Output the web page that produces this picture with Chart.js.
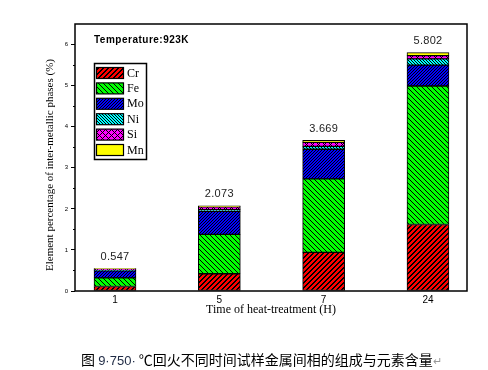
<!DOCTYPE html>
<html>
<head>
<meta charset="utf-8">
<script src="https://cdn.jsdelivr.net/npm/chart.js@4.4.1/dist/chart.umd.min.js"></script>
<style>
  html, body { margin: 0; padding: 0; background: #fff; }
  #wrap { position: relative; width: 488px; height: 370px; }
  #caption {
    position: absolute; left: 81px; top: 350px; text-align: left;
    font: 14px "Noto Sans CJK SC", sans-serif; line-height: 18px; color: #000; white-space: nowrap;
  }
  #caption .num { color: #1f2a44; font-family: "Liberation Sans", Arial, sans-serif; font-size: 13px; }
  #caption .mark { color: #999; font-size: 11px; }
</style>
</head>
<body>
<div id="wrap">
  <canvas id="chart" width="488" height="370"></canvas>
  <div id="caption">图 <span class="num">9·750·</span> ℃回火不同时间试样金属间相的组成与元素含量<span class="mark">↵</span></div>
</div>
<script>
// data (stacked percentages per element)
const timeLabels = ['1', '5', '7', '24'];
const elementNames = ['Cr', 'Fe', 'Mo', 'Ni', 'Si', 'Mn'];
const crValues = [0.11, 0.42, 0.94, 1.62];
const feValues = [0.21, 0.96, 1.79, 3.37];
const moValues = [0.17, 0.56, 0.72, 0.51];
const niValues = [0.02, 0.04, 0.07, 0.15];
const siValues = [0.03, 0.07, 0.10, 0.08];
const mnValues = [0.007, 0.023, 0.049, 0.072];
const tempText = 'Temperature:923K';

// hatch pattern: kind '/', '\\', 'x' or '' (solid)
function makeHatch(bg, kind, step, w) {
    var c = document.createElement('canvas');
    c.width = step; c.height = step;
    var g = c.getContext('2d');
    g.fillStyle = bg;
    g.fillRect(0, 0, step, step);
    g.fillStyle = '#000';
    for (var x = 0; x < step; x++) {
        for (var y = 0; y < step; y++) {
            var a = (x + y) % step, b = ((x - y) % step + step) % step;
            if ((kind === '/' || kind === 'x') && a < w) g.fillRect(x, y, 1, 1);
            if ((kind === '\\' || kind === 'x') && b < w) g.fillRect(x, y, 1, 1);
        }
    }
    return g.createPattern(c, 'repeat');
}

var fills = [
    makeHatch('#ff0000', '/', 5, 2),
    makeHatch('#00ff00', '\\', 5, 1),
    makeHatch('#0000ff', '/', 3, 1),
    makeHatch('#00ffff', '\\', 3, 1),
    makeHatch('#ff00ff', 'x', 6, 1),
    '#ffff00'
];
var series = [crValues, feValues, moValues, niValues, siValues, mnValues];

var datasets = [];
for (var i = 0; i < series.length; i++) {
    datasets.push({
        label: elementNames[i],
        data: series[i].map(function (v, k) { return { x: k + 1, y: v }; }),
        backgroundColor: fills[i],
        borderColor: '#000',
        borderWidth: 1,
        borderSkipped: false,
        barThickness: 42
    });
}

// frame, minor ticks, titles, totals, legend
var decorPlugin = {
    id: 'decor',
    afterDraw: function (chart) {
        var ctx = chart.ctx, a = chart.chartArea;
        var xs = chart.scales.x, ys = chart.scales.y;
        ctx.save();

        // minor ticks on y
        ctx.strokeStyle = '#000';
        ctx.lineWidth = 1;
        for (var v = 0.5; v < 6.5; v += 1) {
            var py = Math.round(ys.getPixelForValue(v)) + 0.5;
            ctx.beginPath(); ctx.moveTo(a.left - 2, py); ctx.lineTo(a.left, py); ctx.stroke();
        }

        // frame
        ctx.lineWidth = 1.5;
        ctx.strokeRect(a.left, a.top, a.right - a.left, a.bottom - a.top);

        // totals above bars
        ctx.fillStyle = '#222';
        ctx.font = '11px "Liberation Sans", Arial, sans-serif';
        ctx.letterSpacing = '0.3px';
        ctx.textAlign = 'center';
        ctx.textBaseline = 'middle';
        for (var k = 0; k < timeLabels.length; k++) {
            var tot = 0;
            for (var s = 0; s < series.length; s++) tot += series[s][k];
            ctx.fillText(tot.toFixed(3), xs.getPixelForValue(k + 1), ys.getPixelForValue(tot) - 11.5);
        }

        // temperature note
        ctx.fillStyle = '#000';
        ctx.font = 'bold 10px "Liberation Sans", Arial, sans-serif';
        ctx.letterSpacing = '0.5px';
        ctx.textAlign = 'left';
        ctx.fillText(tempText, 94, 40);
        ctx.letterSpacing = '0px';

        // axis titles
        ctx.font = '12px "Liberation Serif", "Times New Roman", serif';
        ctx.textAlign = 'center';
        ctx.fillText('Time of heat-treatment (H)', (a.left + a.right) / 2, 310);
        ctx.save();
        ctx.translate(50, 165);
        ctx.rotate(-Math.PI / 2);
        ctx.font = '11px "Liberation Serif", "Times New Roman", serif';
        ctx.fillText('Element percentage of inter-metallic phases (%)', 0, 0);
        ctx.restore();

        // legend box
        ctx.lineWidth = 1.5;
        ctx.strokeStyle = '#000';
        ctx.strokeRect(94.5, 63.5, 52, 96);
        ctx.font = '12px "Liberation Serif", "Times New Roman", serif';
        ctx.textAlign = 'left';
        for (var j = 0; j < elementNames.length; j++) {
            var cy = 73 + j * 15.4;
            ctx.fillStyle = fills[j];
            ctx.fillRect(96.5, cy - 5.5, 27, 11);
            ctx.lineWidth = 1.2;
            ctx.strokeRect(96.5, cy - 5.5, 27, 11);
            ctx.fillStyle = '#000';
            ctx.fillText(elementNames[j], 127, cy + 0.5);
        }
        ctx.restore();
    }
};

new Chart(document.getElementById('chart'), {
    type: 'bar',
    data: { datasets: datasets },
    options: {
        responsive: false,
        animation: false,
        layout: { padding: { left: 0, right: 21, top: 24, bottom: 0 } },
        plugins: { legend: { display: false }, tooltip: { enabled: false } },
        scales: {
            x: {
                type: 'linear',
                offset: false,
                stacked: true,
                min: 0.6166,
                max: 4.374,
                grid: { display: false, drawTicks: false, tickLength: 0 },
                border: { display: false },
                afterFit: function (s) { s.height = 79; },
                afterBuildTicks: function (s) { s.ticks = [1, 2, 3, 4].map(function (v) { return { value: v }; }); },
                ticks: {
                    padding: 3,
                    color: '#000',
                    font: { family: '"Liberation Sans", Arial, sans-serif', size: 10 },
                    callback: function (v) { return timeLabels[v - 1]; }
                }
            },
            y: {
                stacked: true,
                min: 0,
                max: 6.5,
                grid: { drawOnChartArea: false, tickLength: 4, color: '#000', tickWidth: 1 },
                border: { display: false },
                afterFit: function (s) { s.width = 75; },
                ticks: {
                    stepSize: 1,
                    includeBounds: false,
                    padding: 3,
                    color: '#000',
                    font: { family: '"Liberation Sans", Arial, sans-serif', size: 6 }
                }
            }
        }
    },
    plugins: [decorPlugin]
});
</script>
</body>
</html>
